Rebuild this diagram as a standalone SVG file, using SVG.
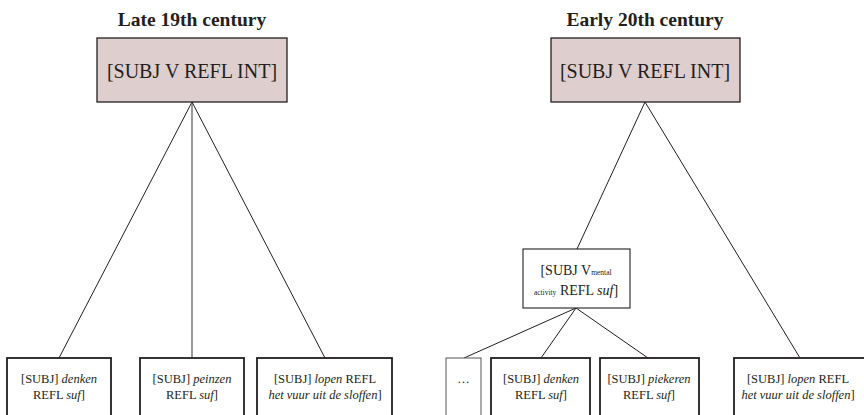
<svg xmlns="http://www.w3.org/2000/svg" width="864" height="415" viewBox="0 0 864 415">
  <style>
    text { font-family: "Liberation Serif", "DejaVu Serif", serif; fill: #231f20; text-anchor: middle; }
    .title { font-size: 19.5px; font-weight: bold; }
    .top { fill: #dfcece; stroke: #231f20; stroke-width: 1.3; }
    .top-label { font-size: 20px; }
    .leaf { fill: #ffffff; stroke: #231f20; stroke-width: 1.8; }
    .mid { fill: #ffffff; stroke: #231f20; stroke-width: 1.1; }
    .dots { fill: #ffffff; stroke: #555555; stroke-width: 1; }
    .label { font-size: 12.5px; }
    .mid-label { font-size: 14px; }
    .small { font-size: 7.5px; }
    .link { stroke: #231f20; stroke-width: 1; fill: none; }
    .link-gray { stroke: #666666; stroke-width: 1.3; fill: none; }
  </style>

  <!-- section titles -->
  <text class="title" x="192" y="26">Late 19th century</text>
  <text class="title" x="645" y="26">Early 20th century</text>

  <!-- connectors -->
  <g id="connectors">
    <line class="link" x1="192" y1="102" x2="59" y2="358"/>
    <line class="link-gray" x1="192" y1="102" x2="192" y2="358"/>
    <line class="link" x1="192" y1="102" x2="325" y2="358"/>
    <line class="link" x1="645" y1="102" x2="577" y2="249"/>
    <line class="link" x1="645" y1="102" x2="800" y2="358"/>
    <line class="link" x1="576" y1="308" x2="464" y2="358"/>
    <line class="link" x1="576" y1="308" x2="541" y2="358"/>
    <line class="link" x1="576" y1="308" x2="648" y2="358"/>
  </g>

  <!-- late 19th century tree -->
  <g id="root-late">
    <rect class="top" x="97" y="38" width="190" height="64"/>
    <text class="top-label" x="192" y="78">[SUBJ V REFL INT]</text>
  </g>
  <g id="late-denken">
    <rect class="leaf" x="7" y="358" width="104" height="70"/>
    <text class="label" x="59" y="383">[SUBJ] <tspan font-style="italic">denken</tspan></text>
    <text class="label" x="59" y="399">REFL <tspan font-style="italic">suf</tspan>]</text>
  </g>
  <g id="late-peinzen">
    <rect class="leaf" x="140" y="358" width="104" height="70"/>
    <text class="label" x="192" y="383">[SUBJ] <tspan font-style="italic">peinzen</tspan></text>
    <text class="label" x="192" y="399">REFL <tspan font-style="italic">suf</tspan>]</text>
  </g>
  <g id="late-lopen">
    <rect class="leaf" x="257" y="358" width="135" height="70"/>
    <text class="label" x="325" y="383">[SUBJ] <tspan font-style="italic">lopen</tspan> REFL</text>
    <text class="label" x="325" y="399"><tspan font-style="italic">het vuur uit de sloffen</tspan>]</text>
  </g>

  <!-- early 20th century tree -->
  <g id="root-early">
    <rect class="top" x="551" y="38" width="189" height="64"/>
    <text class="top-label" x="645" y="78">[SUBJ V REFL INT]</text>
  </g>
  <g id="early-mental">
    <rect class="mid" x="523" y="249" width="107" height="59"/>
    <text class="mid-label" x="576" y="275">[SUBJ V<tspan class="small">mental</tspan></text>
    <text class="mid-label" x="576" y="295"><tspan class="small">activity</tspan> REFL <tspan font-style="italic">suf</tspan>]</text>
  </g>
  <g id="early-dots">
    <rect class="dots" x="446" y="358" width="35" height="70"/>
    <text class="label" x="463.5" y="383">…</text>
  </g>
  <g id="early-denken">
    <rect class="leaf" x="491" y="358" width="99" height="70"/>
    <text class="label" x="541" y="383">[SUBJ] <tspan font-style="italic">denken</tspan></text>
    <text class="label" x="541" y="399">REFL <tspan font-style="italic">suf</tspan>]</text>
  </g>
  <g id="early-piekeren">
    <rect class="leaf" x="600" y="358" width="99" height="70"/>
    <text class="label" x="649" y="383">[SUBJ] <tspan font-style="italic">piekeren</tspan></text>
    <text class="label" x="649" y="399">REFL <tspan font-style="italic">suf</tspan>]</text>
  </g>
  <g id="early-lopen">
    <rect class="leaf" x="734" y="358" width="135" height="70"/>
    <text class="label" x="798" y="383">[SUBJ] <tspan font-style="italic">lopen</tspan> REFL</text>
    <text class="label" x="798" y="399"><tspan font-style="italic">het vuur uit de sloffen</tspan>]</text>
  </g>
</svg>
